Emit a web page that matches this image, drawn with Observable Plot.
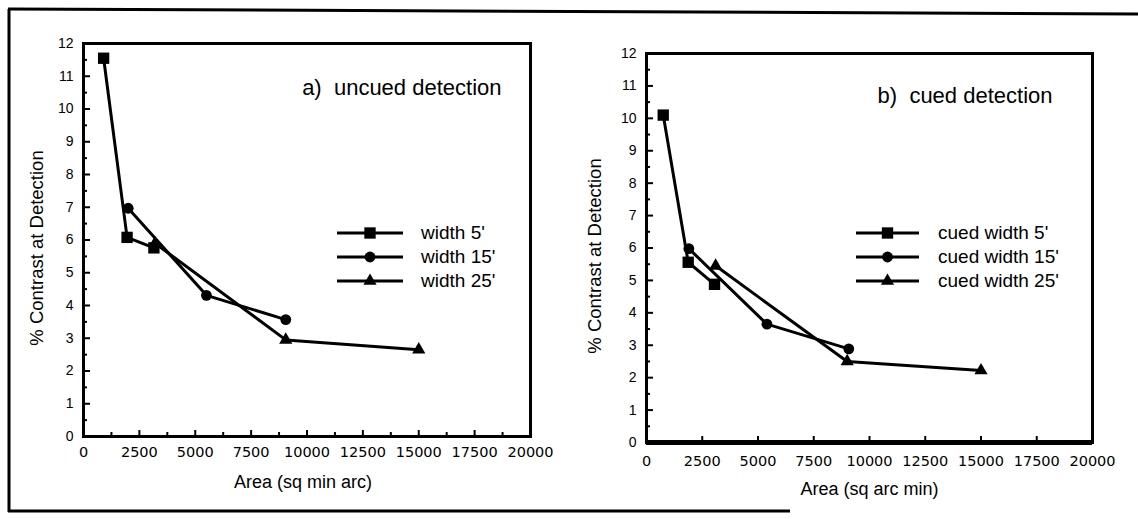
<!DOCTYPE html>
<html>
<head>
<meta charset="utf-8">
<script src="https://cdn.jsdelivr.net/npm/d3@7"></script>
<script src="https://cdn.jsdelivr.net/npm/@observablehq/plot@0.6"></script>
<style>
  html, body { margin: 0; padding: 0; background: #fff; }
  #wrap { position: relative; width: 1138px; height: 519px; overflow: hidden; font-family: "Liberation Sans", Arial, sans-serif; }
  #border { position: absolute; left: 0; top: 0; }
  .panel { position: absolute; top: 0; }
  .legend { position: absolute; font-size: 19px; color: #000; }
  .legend .row { display: flex; align-items: center; height: 24px; }
  .legend svg { display: block; }
</style>
</head>
<body>
<div id="wrap">
  <svg id="border" width="1138" height="519">
    <line x1="9" y1="9" x2="9" y2="512" stroke="black" stroke-width="3"/>
    <line x1="8" y1="9" x2="1138" y2="14" stroke="black" stroke-width="3"/>
    <line x1="8" y1="511" x2="790" y2="511" stroke="black" stroke-width="3"/>
  </svg>
</div>
<script>
// ---- data ----
const xTicks = [0, 2500, 5000, 7500, 10000, 12500, 15000, 17500, 20000];
const xMinorLeft = [1250, 3750, 6250, 8750, 11250, 13750, 16250, 18750];
const yTicks = [0, 1, 2, 3, 4, 5, 6, 7, 8, 9, 10, 11, 12];
const yMinor = [0.5, 1.5, 2.5, 3.5, 4.5, 5.5, 6.5, 7.5, 8.5, 9.5, 10.5, 11.5];

// panel a) uncued detection
const uncuedSeries = ["width 5'", "width 15'", "width 25'"];
const uncued5Area = [900, 1950, 3150];
const uncued5Contrast = [11.55, 6.08, 5.76];
const uncued15Area = [2000, 5500, 9050];
const uncued15Contrast = [6.97, 4.31, 3.57];
const uncued25Area = [3200, 9050, 15000];
const uncued25Contrast = [5.9, 2.95, 2.65];

// panel b) cued detection
const cuedSeries = ["cued width 5'", "cued width 15'", "cued width 25'"];
const cued5Area = [750, 1870, 3050];
const cued5Contrast = [10.1, 5.56, 4.88];
const cued15Area = [1900, 5400, 9070];
const cued15Contrast = [5.98, 3.65, 2.89];
const cued25Area = [3100, 9000, 15000];
const cued25Contrast = [5.45, 2.5, 2.22];

const symbols = ["square", "circle", "triangle"];
const symbolR = {square: 6.4, circle: 5.4, triangle: 4.9};

function rows(series, areas, contrasts) {
  const out = [];
  series.forEach((s, i) => areas[i].forEach((a, j) => out.push({series: s, symbol: symbols[i], area: a, contrast: contrasts[i][j]})));
  return out;
}

const uncuedData = rows(uncuedSeries, [uncued5Area, uncued15Area, uncued25Area], [uncued5Contrast, uncued15Contrast, uncued25Contrast]);
const cuedData = rows(cuedSeries, [cued5Area, cued15Area, cued25Area], [cued5Contrast, cued15Contrast, cued25Contrast]);

function panel(opt) {
  const W = 569, H = 519;
  const innerW = W - opt.ml - opt.mr, innerH = H - opt.mt - opt.mb;
  const marks = [
    Plot.tickY(yTicks, {y: d => d, insetRight: innerW - 7, strokeWidth: 2}),
    Plot.tickY(yMinor, {y: d => d, insetRight: innerW - 4, strokeWidth: 2}),
    Plot.tickX(xTicks, {x: d => d, insetTop: innerH - 6, strokeWidth: 2}),
    Plot.tickX(opt.xMinor, {x: d => d, insetTop: innerH - 4, strokeWidth: 2}),
    Plot.axisY({ticks: yTicks, tickSize: 0, tickPadding: 10, tickFormat: d => String(d), fontSize: 14, label: null}),
    Plot.axisX({ticks: xTicks, tickSize: 0, tickPadding: opt.xpad, tickFormat: d => String(d), fontSize: 14.5,
      fontFamily: "DejaVu Sans", label: null}),
    Plot.text(["% Contrast at Detection"], {frameAnchor: "left", textAnchor: "middle", rotate: -90, dx: opt.yldx, dy: 8, fontSize: 18.5, fontFamily: "Liberation Sans"}),
    Plot.text([opt.xlabel], {frameAnchor: "bottom", dx: opt.xldx, dy: opt.xldy, fontSize: 18, fontFamily: "Liberation Sans"}),
    Plot.frame({strokeWidth: 3, stroke: "black"}),
    Plot.ruleY([0], {strokeWidth: opt.bottomW}),
    ...opt.series.map(s => Plot.line(opt.data.filter(d => d.series === s), {x: "area", y: "contrast", stroke: "black", strokeWidth: 3})),
    ...symbols.map(sym => Plot.dot(opt.data.filter(d => d.symbol === sym), {x: "area", y: "contrast", symbol: sym, fill: "black", stroke: "none", r: symbolR[sym]})),
    Plot.text([opt.title], {frameAnchor: "top-right", dx: opt.tdx, dy: opt.tdy, fontSize: 22, fontFamily: "Liberation Sans"})
  ];
  const chart = Plot.plot({
    width: W, height: H,
    marginLeft: opt.ml, marginRight: opt.mr, marginTop: opt.mt, marginBottom: opt.mb,
    x: {domain: [0, 20000]},
    y: {domain: [0, 12]},
    style: {fontFamily: "Liberation Sans, Arial, sans-serif", fontSize: "14px", color: "black", background: "transparent", overflow: "visible"},
    marks
  });
  chart.classList.add("panel");
  chart.style.left = opt.left + "px";
  document.getElementById("wrap").appendChild(chart);
}

panel({left: 0, ml: 83, mr: 39, mt: 43, mb: 83, xMinor: xMinorLeft, bottomW: 3,
  data: uncuedData, series: uncuedSeries, title: "a)\u00a0 uncued detection", tdx: -29, tdy: 36,
  xlabel: "Area (sq min arc)", xldx: -4, xldy: 51, yldx: -46, xpad: 10});
panel({left: 569, ml: 77, mr: 46, mt: 53, mb: 77, xMinor: [], bottomW: 5,
  data: cuedData, series: cuedSeries, title: "b)\u00a0 cued detection", tdx: -40, tdy: 34,
  xlabel: "Area (sq arc min)", xldx: 0, xldy: 52, yldx: -51, xpad: 13});

// legends
function legend(series, left, top, lineW, gap) {
  const div = document.createElement("div");
  div.className = "legend";
  div.style.left = left + "px";
  div.style.top = top + "px";
  series.forEach((s, i) => {
    const row = document.createElement("div");
    row.className = "row";
    const svg = d3.create("svg").attr("width", lineW).attr("height", 24);
    svg.append("line").attr("x1", 0).attr("x2", lineW).attr("y1", 12).attr("y2", 12).attr("stroke", "black").attr("stroke-width", 3);
    svg.append("path").attr("transform", `translate(${lineW / 2},12)`)
      .attr("d", d3.symbol(i === 0 ? d3.symbolSquare : i === 1 ? d3.symbolCircle : d3.symbolTriangle, Math.PI * symbolR[symbols[i]] ** 2)())
      .attr("fill", "black");
    row.appendChild(svg.node());
    const t = document.createElement("span");
    t.textContent = s;
    t.style.marginLeft = gap + "px";
    row.appendChild(t);
    div.appendChild(row);
  });
  document.getElementById("wrap").appendChild(div);
}
legend(uncuedSeries, 337, 221, 66, 18);
legend(cuedSeries, 856, 221, 63, 19);
</script>
</body>
</html>
